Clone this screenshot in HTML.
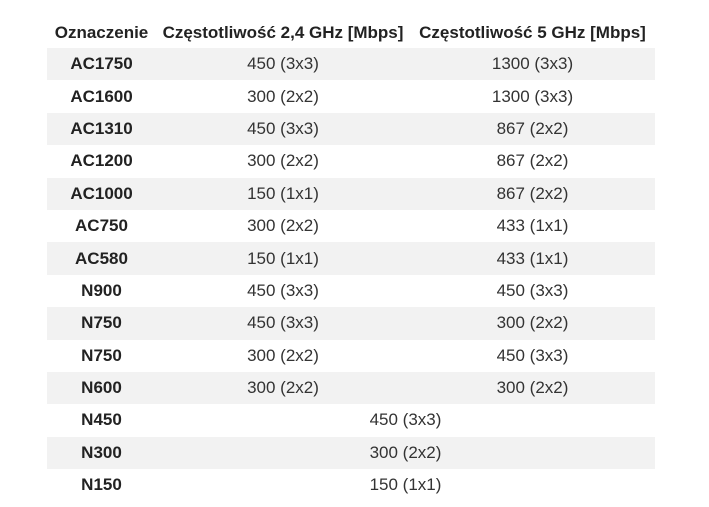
<!DOCTYPE html>
<html><head><meta charset="utf-8"><style>
body{margin:0;width:709px;height:507px;background:#fff;overflow:hidden;font-family:"Liberation Sans",Arial,sans-serif;color:#333;}
table{position:absolute;left:47px;top:17px;width:608px;border-collapse:collapse;font-size:17px;}
th{font-weight:bold;height:31px;padding:0;text-align:center;white-space:nowrap;color:#222;}
td{height:32.4px;padding:0;text-align:center;white-space:nowrap;}
td.n{font-weight:bold;color:#222;}
tr.s td{background:#f2f2f2;}
</style></head><body>
<table>
<thead><tr>
<th style="width:109px">Oznaczenie</th>
<th style="width:254px">Częstotliwość 2,4 GHz [Mbps]</th>
<th>Częstotliwość 5 GHz [Mbps]</th>
</tr></thead>
<tbody>
<tr class="s"><td class="n">AC1750</td><td>450 (3x3)</td><td>1300 (3x3)</td></tr>
<tr><td class="n">AC1600</td><td>300 (2x2)</td><td>1300 (3x3)</td></tr>
<tr class="s"><td class="n">AC1310</td><td>450 (3x3)</td><td>867 (2x2)</td></tr>
<tr><td class="n">AC1200</td><td>300 (2x2)</td><td>867 (2x2)</td></tr>
<tr class="s"><td class="n">AC1000</td><td>150 (1x1)</td><td>867 (2x2)</td></tr>
<tr><td class="n">AC750</td><td>300 (2x2)</td><td>433 (1x1)</td></tr>
<tr class="s"><td class="n">AC580</td><td>150 (1x1)</td><td>433 (1x1)</td></tr>
<tr><td class="n">N900</td><td>450 (3x3)</td><td>450 (3x3)</td></tr>
<tr class="s"><td class="n">N750</td><td>450 (3x3)</td><td>300 (2x2)</td></tr>
<tr><td class="n">N750</td><td>300 (2x2)</td><td>450 (3x3)</td></tr>
<tr class="s"><td class="n">N600</td><td>300 (2x2)</td><td>300 (2x2)</td></tr>
<tr><td class="n">N450</td><td colspan="2">450 (3x3)</td></tr>
<tr class="s"><td class="n">N300</td><td colspan="2">300 (2x2)</td></tr>
<tr><td class="n">N150</td><td colspan="2">150 (1x1)</td></tr>
</tbody></table>
</body></html>
